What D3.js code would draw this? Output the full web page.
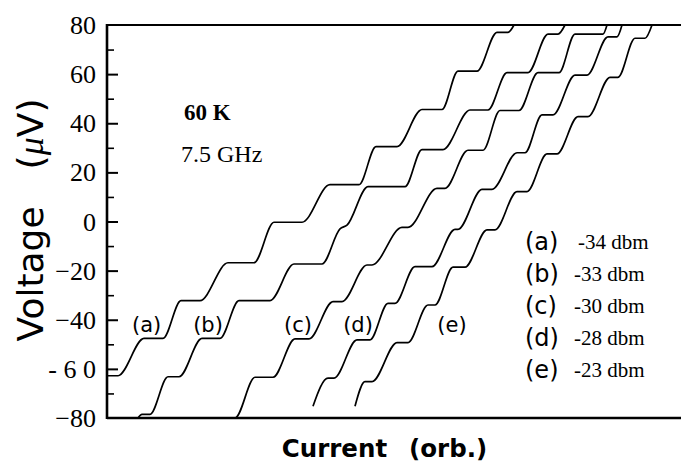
<!DOCTYPE html>
<html>
<head>
<meta charset="utf-8">
<script src="https://cdn.jsdelivr.net/npm/d3@7"></script>
<style>
  html, body { margin: 0; padding: 0; background: #fff; }
  svg { display: block; }
</style>
</head>
<body>
<svg id="chart" width="681" height="464"></svg>
<script>
// Shapiro-step I–V curves, 60 K, 7.5 GHz drive, five microwave power levels.
const curveNames  = ["(a)", "(b)", "(c)", "(d)", "(e)"];
const powerLabels = ["-34 dbm", "-33 dbm", "-30 dbm", "-28 dbm", "-23 dbm"];

// Current (arbitrary units) and voltage (µV) at the corners of each step
const currentA = [0, 1.1, 3.7, 5.6, 7.4, 9.3, 12.1, 14.7, 16.7, 19.5, 22.3, 25.2, 26.9, 29.0, 31.5, 33.5, 35.1, 37.0, 39.0, 40.1, 40.7];
const voltageA = [-62.8, -62.8, -47.6, -47.6, -32.2, -32.2, -16.8, -16.8, -0.3, -0.3, 15, 15, 30.5, 30.5, 45.6, 45.6, 61.2, 61.2, 77, 77, 80];

const currentB = [3.1, 3.5, 4.3, 6.1, 7.2, 9.5, 11.3, 13.2, 16.3, 18.7, 21.5, 23.3, 24.0, 26.1, 29.8, 31.5, 33.6, 36.3, 38.1, 40.0, 42.1, 44.1, 45.1, 45.8];
const voltageB = [-80, -78.5, -78.5, -63.2, -63.2, -47.6, -47.6, -32.2, -32.2, -17.3, -17.3, -3, -1.5, 14.2, 14.2, 29.3, 29.3, 45.4, 45.4, 60.6, 60.6, 76.3, 76.3, 80];

const currentC = [11.3, 12.8, 14.8, 16.6, 18.8, 20.2, 22.6, 23.5, 26.0, 26.5, 29.5, 30.1, 33.0, 33.8, 36.1, 37.6, 39.3, 41.2, 43.1, 45.2, 46.8, 49.6, 50.0];
const voltageC = [-80, -80, -63.4, -63.4, -47.8, -47.8, -32.6, -32.6, -17.7, -17.7, -2.4, -2.4, 13.5, 13.5, 29, 29, 45.2, 45.2, 60.6, 60.6, 76.3, 76.3, 80];

const currentD = [20.6, 22.1, 22.7, 25.0, 26.3, 28.1, 28.8, 30.8, 32.5, 34.8, 35.1, 37.5, 38.5, 41.0, 41.8, 43.5, 44.6, 46.8, 48.0, 50.1, 51.0, 51.5];
const voltageD = [-75.2, -63.8, -63.8, -48.2, -48.2, -33.3, -33.3, -18.4, -18.4, -3.2, -3.2, 13.1, 13.1, 28, 28, 43.4, 43.4, 59.6, 59.6, 75.2, 75.2, 80];

const currentE = [24.8, 25.8, 26.5, 29.0, 30.1, 32.1, 32.8, 34.6, 35.8, 38.0, 38.8, 41.0, 42.0, 44.0, 45.0, 47.1, 48.1, 50.3, 51.1, 52.8, 53.8, 54.5];
const voltageE = [-75.2, -65.2, -65.2, -49.3, -49.3, -34, -34, -18.6, -18.6, -3.4, -3.4, 12.2, 12.2, 27.5, 27.5, 42.7, 42.7, 58.7, 58.7, 74.6, 74.6, 80];

// Where each curve's tag sits (current, voltage)
const tagCurrent = [3.97, 10.1, 19.1, 25.1, 34.5];
const tagVoltage = [-42, -42, -42, -42, -42];

const yTickValues  = [-80, -60, -40, -20, 0, 20, 40, 60, 80];
const yTickLabels  = ["\u221280", "- 6 0", "\u221240", "\u221220", "0", "20", "40", "60", "80"];
const yMajorMarks  = [-60, -40, -20, 0, 20, 40, 60];
const yMinorMarks  = [-70, -50, -30, -10, 10, 30, 50, 70];

const series = [
  [currentA, voltageA], [currentB, voltageB], [currentC, voltageC],
  [currentD, voltageD], [currentE, voltageE]
].map(([I, V]) => I.map((c, i) => ({ I: c, V: V[i] })));

const svg = d3.select("#chart");
const plotLeft = 107, plotRight = 681, plotTop = 25, plotBottom = 418;

const x = d3.scaleLinear().domain([0, 57.4]).range([plotLeft, plotRight]);
const y = d3.scaleLinear().domain([-80, 80]).range([plotBottom, plotTop]);

const serif = "'Liberation Serif', 'Times New Roman', serif";
const sans  = "'DejaVu Sans', 'Liberation Sans', sans-serif";

// curves
const line = d3.line().x(d => x(d.I)).y(d => y(d.V)).curve(d3.curveMonotoneX);
svg.append("g").selectAll("path").data(series).join("path")
  .attr("d", line)
  .attr("fill", "none")
  .attr("stroke", "#000")
  .attr("stroke-width", 1.7)
  .attr("stroke-linejoin", "round");

// frame: top and bottom rules
svg.append("line").attr("x1", plotLeft).attr("x2", plotRight).attr("y1", y(80)).attr("y2", y(80))
  .attr("stroke", "#000").attr("stroke-width", 2);
svg.append("line").attr("x1", plotLeft).attr("x2", plotRight).attr("y1", y(-80)).attr("y2", y(-80))
  .attr("stroke", "#000").attr("stroke-width", 2.4);

// y axis with inward ticks
const yAxis = d3.axisLeft(y).tickValues(yMajorMarks).tickSize(-11).tickFormat("");
const gy = svg.append("g").attr("transform", `translate(${plotLeft},0)`).call(yAxis);
gy.select(".domain").remove();
gy.selectAll(".tick line").attr("stroke", "#000").attr("stroke-width", 2);

const yMinor = d3.axisLeft(y).tickValues(yMinorMarks).tickSize(-7).tickFormat("");
const gm = svg.append("g").attr("transform", `translate(${plotLeft},0)`).call(yMinor);
gm.select(".domain").remove();
gm.selectAll(".tick line").attr("stroke", "#000").attr("stroke-width", 1.6);

svg.append("line").attr("x1", plotLeft).attr("x2", plotLeft).attr("y1", y(80) - 1).attr("y2", y(-80) + 1)
  .attr("stroke", "#000").attr("stroke-width", 2.6);

// tick labels
svg.append("g").selectAll("text").data(yTickValues).join("text")
  .attr("x", 96)
  .attr("y", d => y(d))
  .attr("dy", "0.35em")
  .attr("text-anchor", "end")
  .attr("font-family", serif)
  .attr("font-size", 26)
  .style("white-space", "pre")
  .text((d, i) => yTickLabels[i]);

// axis titles
const yt = svg.append("text")
  .attr("transform", "translate(43, 220) rotate(-90)")
  .attr("text-anchor", "middle")
  .attr("font-family", sans)
  .attr("font-size", 36);
yt.append("tspan").text("Voltage");
yt.append("tspan").attr("dx", 37).text("(");
yt.append("tspan").attr("font-style", "italic").attr("font-family", serif).text("\u03bc");
yt.append("tspan").text("V)");

const xt = svg.append("text")
  .attr("x", 384.5).attr("y", 457)
  .attr("text-anchor", "middle")
  .attr("font-family", sans)
  .attr("font-weight", "bold")
  .attr("font-size", 24.5);
xt.append("tspan").text("Current");
xt.append("tspan").attr("dx", 22).text("(orb.)");

// condition notes
svg.append("text").attr("x", 184).attr("y", 120)
  .attr("font-family", serif).attr("font-weight", "bold").attr("font-size", 23)
  .text("60 K");
svg.append("text").attr("x", 181).attr("y", 162)
  .attr("font-family", serif).attr("font-size", 24)
  .text("7.5 GHz");

// curve tags
svg.append("g").selectAll("text").data(curveNames).join("text")
  .attr("x", (d, i) => x(tagCurrent[i]))
  .attr("y", (d, i) => y(tagVoltage[i]))
  .attr("dy", "0.35em")
  .attr("text-anchor", "middle")
  .attr("font-family", sans)
  .attr("font-size", 21)
  .text(d => d);

// legend
const lg = svg.append("g").selectAll("g").data(curveNames).join("g")
  .attr("transform", (d, i) => `translate(525, ${241.5 + i * 32})`);
lg.append("text").attr("dy", "0.35em").attr("font-family", sans).attr("font-size", 24).text(d => d);
lg.append("text").attr("x", (d, i) => i === 0 ? 53 : 49).attr("dy", "0.35em")
  .attr("font-family", serif).attr("font-size", 21)
  .text((d, i) => powerLabels[i]);
</script>
</body>
</html>
